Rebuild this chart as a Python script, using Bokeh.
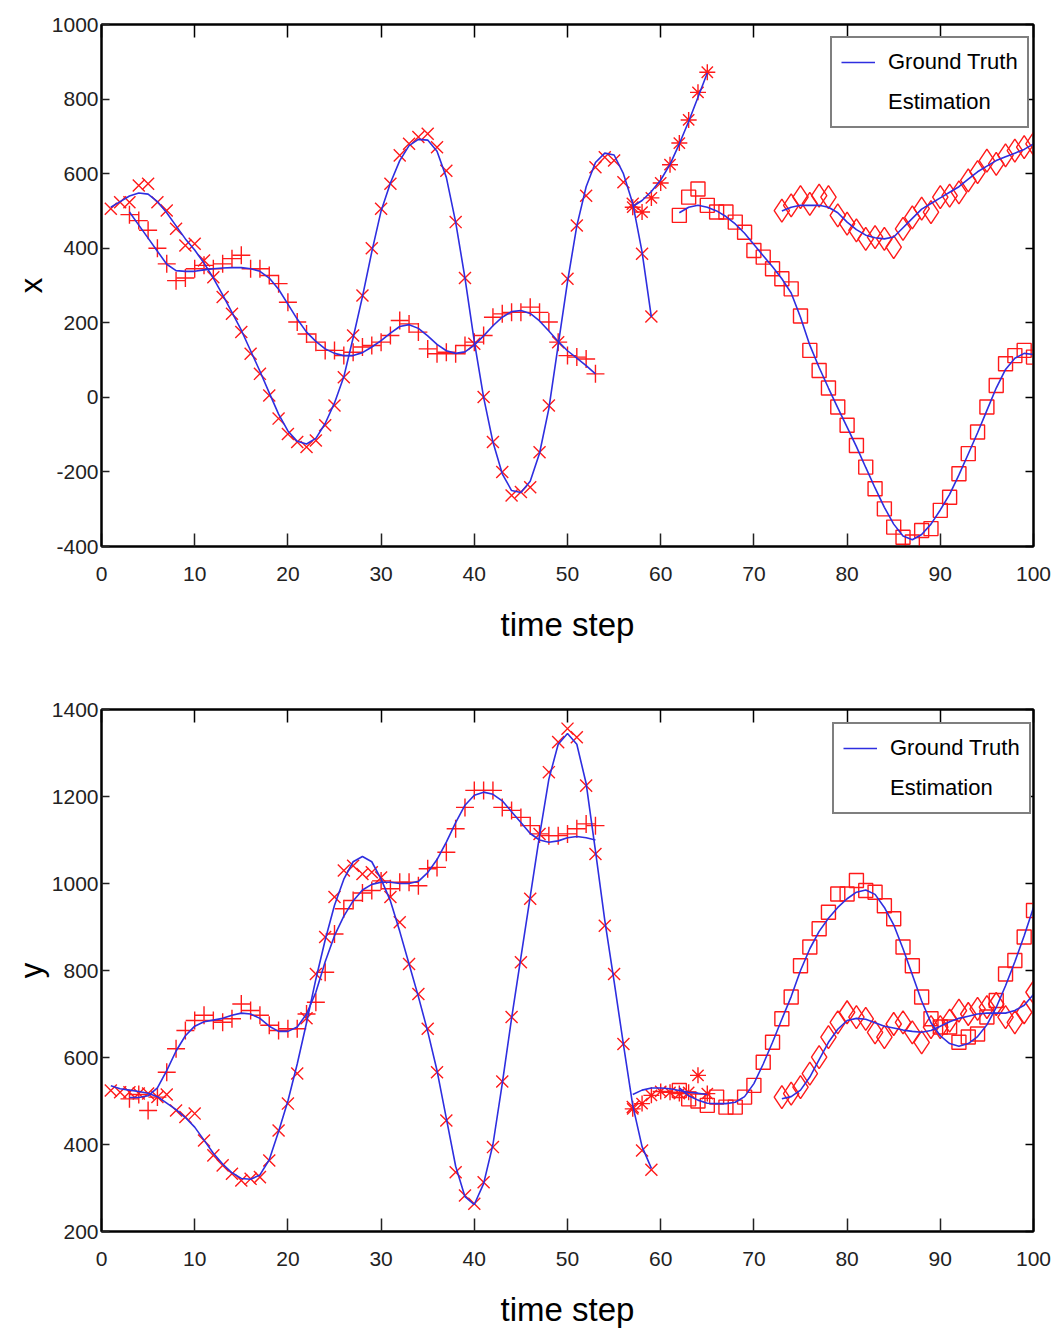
from bokeh.plotting import figure
from bokeh.models import Range1d, LinearAxis, Legend, LegendItem, FixedTicker
from bokeh.layouts import column
from bokeh.embed import file_html
from bokeh.resources import INLINE

# ---------------- data ----------------
t_A = list(range(1, 60))
xA_true = [510, 525, 540, 548, 545, 525, 495, 460, 425, 395,
           360, 320, 275, 228, 180, 125, 70, 12, -45, -90,
           -118, -125, -110, -70, -15, 55, 160, 270, 390, 500,
           575, 635, 675, 692, 690, 660, 590, 470, 320, 150,
           0, -120, -205, -250, -255, -225, -150, -30, 140, 310,
           460, 565, 630, 655, 650, 600, 520, 390, 215]
xA_est = [506, 523, 523, 568, 573, 523, 501, 452, 407, 412,
          367, 322, 269, 224, 175, 117, 63, 5, -57, -98,
          -120, -133, -116, -75, -22, 54, 166, 273, 400, 506,
          573, 649, 680, 698, 707, 671, 608, 470, 320, 144,
          1, -120, -200, -263, -254, -241, -147, -22, 148, 318,
          461, 541, 617, 644, 635, 577, 519, 385, 217]
yA_true = [535, 528, 525, 522, 518, 510, 495, 480, 462, 440,
           410, 380, 355, 335, 322, 320, 330, 365, 430, 500,
           585, 680, 780, 870, 950, 1010, 1050, 1062, 1050, 1010,
           960, 890, 815, 740, 660, 570, 460, 350, 280, 262,
           310, 400, 540, 690, 830, 970, 1110, 1240, 1320, 1345,
           1320, 1230, 1075, 915, 775, 630, 490, 395, 345]
yA_est = [524, 520, 520, 517, 517, 509, 515, 478, 463, 471,
          409, 375, 352, 333, 317, 321, 325, 363, 432, 494,
          563, 690, 792, 877, 969, 1030, 1041, 1022, 1026, 1014,
          969, 911, 815, 746, 666, 566, 455, 336, 283, 264,
          313, 394, 545, 693, 819, 965, 1114, 1256, 1325, 1356,
          1336, 1225, 1068, 903, 792, 631, 486, 386, 342]

t_B = list(range(3, 54))
xB_true = [497, 462, 427, 392, 357, 340, 338, 338, 342, 345,
           347, 348, 348, 345, 338, 320, 290, 250, 210, 175,
           150, 130, 118, 112, 112, 120, 135, 152, 172, 190,
           195, 185, 165, 142, 125, 118, 122, 140, 165, 192,
           215, 230, 233, 225, 205, 178, 150, 125, 105, 85,
           63]
xB_est = [490, 474, 448, 400, 358, 313, 320, 345, 354, 345,
          358, 372, 381, 345, 345, 327, 305, 255, 202, 170,
          148, 126, 126, 112, 121, 135, 139, 148, 166, 206,
          197, 175, 130, 117, 121, 117, 139, 148, 166, 215,
          224, 228, 228, 242, 228, 202, 148, 112, 108, 103,
          63]
yB_true = [508, 508, 512, 530, 570, 615, 650, 672, 682, 686,
           690, 697, 702, 700, 690, 672, 660, 660, 670, 700,
           750, 820, 880, 925, 960, 985, 998, 1003, 1003, 1000,
           1000, 1005, 1025, 1055, 1095, 1140, 1180, 1203, 1210, 1205,
           1190, 1165, 1140, 1115, 1100, 1095, 1098, 1105, 1108, 1105,
           1100]
yB_est = [505, 515, 478, 509, 566, 620, 662, 685, 697, 685,
          681, 689, 723, 708, 697, 674, 662, 666, 666, 700,
          727, 796, 884, 942, 961, 978, 984, 1006, 988, 1003,
          1003, 995, 1034, 1037, 1072, 1126, 1175, 1214, 1214, 1214,
          1175, 1168, 1152, 1133, 1114, 1110, 1110, 1114, 1126, 1137,
          1133]

t_C = list(range(57, 66))
xC_true = [512, 528, 552, 583, 625, 680, 740, 805, 870]
xC_est = [510, 497, 535, 575, 624, 682, 744, 818, 872]
yC_true = [515, 525, 530, 530, 528, 524, 520, 518, 515]
yC_est = [482, 494, 513, 522, 520, 517, 520, 559, 517]

t_D = list(range(62, 101))
xD_true = [495, 510, 515, 510, 500, 485, 465, 440, 410, 380,
           350, 318, 280, 215, 140, 80, 25, -28, -80, -132,
           -188, -243, -295, -340, -372, -382, -368, -340, -302, -260,
           -208, -152, -95, -35, 25, 75, 105, 118, 115]
xD_est = [488, 537, 559, 515, 497, 497, 470, 443, 394, 376,
          345, 318, 291, 218, 126, 72, 25, -26, -75, -129,
          -187, -245, -299, -348, -375, -388, -357, -352, -303, -268,
          -205, -151, -93, -26, 32, 90, 112, 126, 108]
yD_true = [530, 512, 502, 495, 494, 494, 497, 510, 540, 585,
           635, 688, 740, 800, 850, 890, 920, 945, 965, 980,
           985, 975, 945, 905, 850, 790, 730, 680, 650, 632,
           626, 632, 648, 675, 715, 765, 820, 880, 945]
yD_est = [524, 505, 500, 490, 509, 486, 486, 509, 536, 589,
          635, 689, 739, 811, 854, 896, 934, 976, 976, 1007,
          984, 980, 949, 919, 854, 811, 739, 689, 670, 670,
          635, 647, 654, 693, 731, 792, 823, 877, 938]

t_E = list(range(73, 101))
xE_true = [500, 510, 515, 515, 515, 510, 495, 470, 450, 435,
           428, 425, 430, 455, 480, 505, 520, 535, 550, 565,
           585, 605, 620, 635, 645, 655, 665, 680]
xE_est = [501, 515, 537, 519, 541, 537, 488, 466, 448, 425,
          430, 425, 403, 452, 483, 506, 497, 537, 541, 550,
          582, 604, 635, 626, 649, 662, 671, 680]
yE_true = [505, 510, 525, 555, 595, 635, 665, 685, 690, 688,
           680, 672, 668, 663, 660, 658, 662, 672, 682, 690,
           695, 700, 702, 702, 702, 708, 720, 745]
yE_est = [509, 517, 532, 563, 601, 647, 681, 704, 693, 689,
          658, 647, 677, 681, 658, 635, 670, 670, 685, 708,
          700, 712, 716, 723, 693, 681, 704, 750]

x_ticks = [0, 10, 20, 30, 40, 50, 60, 70, 80, 90, 100]
x_plot_ticks = [-400, -200, 0, 200, 400, 600, 800, 1000]
y_plot_ticks = [200, 400, 600, 800, 1000, 1200, 1400]
legend_labels = ["Ground Truth", "Estimation"]
x_label = "time step"

FONT = "Liberation Sans"
BLUE = "#2e2ee0"
RED = "#ff1a1a"

markers = {"A": ("x", 17), "B": ("cross", 18), "C": ("asterisk", 16),
           "D": ("square", 14), "E": ("diamond", 23)}


def make_fig(width, height, borders, yr, yticks, ylabel, tracks, legend_loc):
    left, right, top, bottom = borders
    p = figure(width=width, height=height, x_range=Range1d(0, 100),
               y_range=Range1d(*yr), output_backend="svg",
               toolbar_location=None, min_border_left=left,
               min_border_right=right, min_border_top=top,
               min_border_bottom=bottom)
    p.grid.visible = False
    p.outline_line_color = "black"
    p.outline_line_width = 2
    p.background_fill_color = "white"
    p.border_fill_color = "white"

    p.xaxis.ticker = FixedTicker(ticks=x_ticks)
    p.yaxis.ticker = FixedTicker(ticks=yticks)
    p.yaxis.major_label_overrides = {v: str(v) for v in yticks}
    for ax in (p.xaxis[0], p.yaxis[0]):
        ax.major_label_text_font = FONT
        ax.major_label_text_font_size = "21px"
        ax.major_label_text_color = "#222222"
        ax.axis_label_text_font = FONT
        ax.axis_label_text_font_style = "normal"
        ax.axis_label_text_font_size = "33px"
        ax.axis_label_text_color = "black"
        ax.axis_line_width = 2
        ax.axis_line_color = "black"
        ax.major_tick_out = 0
        ax.major_tick_line_width = 1.5
        ax.major_tick_line_color = "#222222"
        ax.minor_tick_line_color = None
    p.yaxis.axis_label_text_font_size = "31px"
    p.xaxis.major_tick_in = 13
    p.yaxis.major_tick_in = 8
    p.xaxis.major_label_standoff = 20
    p.yaxis.major_label_standoff = 3
    p.xaxis.axis_label = x_label
    p.xaxis.axis_label_standoff = 22
    p.yaxis.axis_label = ylabel
    p.yaxis.axis_label_standoff = 0

    ax_top = LinearAxis(ticker=FixedTicker(ticks=x_ticks),
                        major_label_text_font_size="4px",
                        major_label_text_color=None,
                        major_label_standoff=0, major_tick_in=13,
                        major_tick_out=0, minor_tick_line_color=None,
                        axis_line_width=2, major_tick_line_width=1.5)
    ax_right = LinearAxis(ticker=FixedTicker(ticks=yticks),
                          major_label_text_font_size="4px",
                          major_label_text_color=None,
                          major_label_standoff=0, major_tick_in=8,
                          major_tick_out=0, minor_tick_line_color=None,
                          axis_line_width=2, major_tick_line_width=1.5)
    p.add_layout(ax_top, "above")
    p.add_layout(ax_right, "right")

    lines = []
    for key, t, truth, est in tracks:
        mk, sz = markers[key]
        p.scatter(t, est, marker=mk, size=sz, line_color=RED,
                  fill_color=None, line_width=1.4)
    for key, t, truth, est in tracks:
        lines.append(p.line(t, truth, line_color=BLUE, line_width=1.6))

    dummy = p.line([], [], line_alpha=0)
    legend = Legend(items=[LegendItem(label=legend_labels[0], renderers=[lines[0]]),
                           LegendItem(label=legend_labels[1], renderers=[dummy])],
                    location=legend_loc, margin=0, padding=9, spacing=10,
                    glyph_width=34, glyph_height=30, label_height=30,
                    label_standoff=13, label_text_font=FONT,
                    label_text_font_size="22px", label_text_color="black",
                    border_line_color="black", border_line_width=2,
                    background_fill_color="white", background_fill_alpha=1)
    p.add_layout(legend, "center")
    return p


top_tracks = [("A", t_A, xA_true, xA_est), ("B", t_B, xB_true, xB_est),
              ("C", t_C, xC_true, xC_est), ("D", t_D, xD_true, xD_est),
              ("E", t_E, xE_true, xE_est)]
bot_tracks = [("A", t_A, yA_true, yA_est), ("B", t_B, yB_true, yB_est),
              ("C", t_C, yC_true, yC_est), ("D", t_D, yD_true, yD_est),
              ("E", t_E, yE_true, yE_est)]

p1 = make_fig(1061, 670, (101, 28, 24, 124), (-400, 1000), x_plot_ticks, "x",
              top_tracks, (729, 418))
p2 = make_fig(1061, 671, (97, 24, 39, 110), (200, 1400), y_plot_ticks, "y",
              bot_tracks, (731, 417))

layout = column(p1, p2, spacing=0)
open("out.html", "w").write(file_html(layout, INLINE))
